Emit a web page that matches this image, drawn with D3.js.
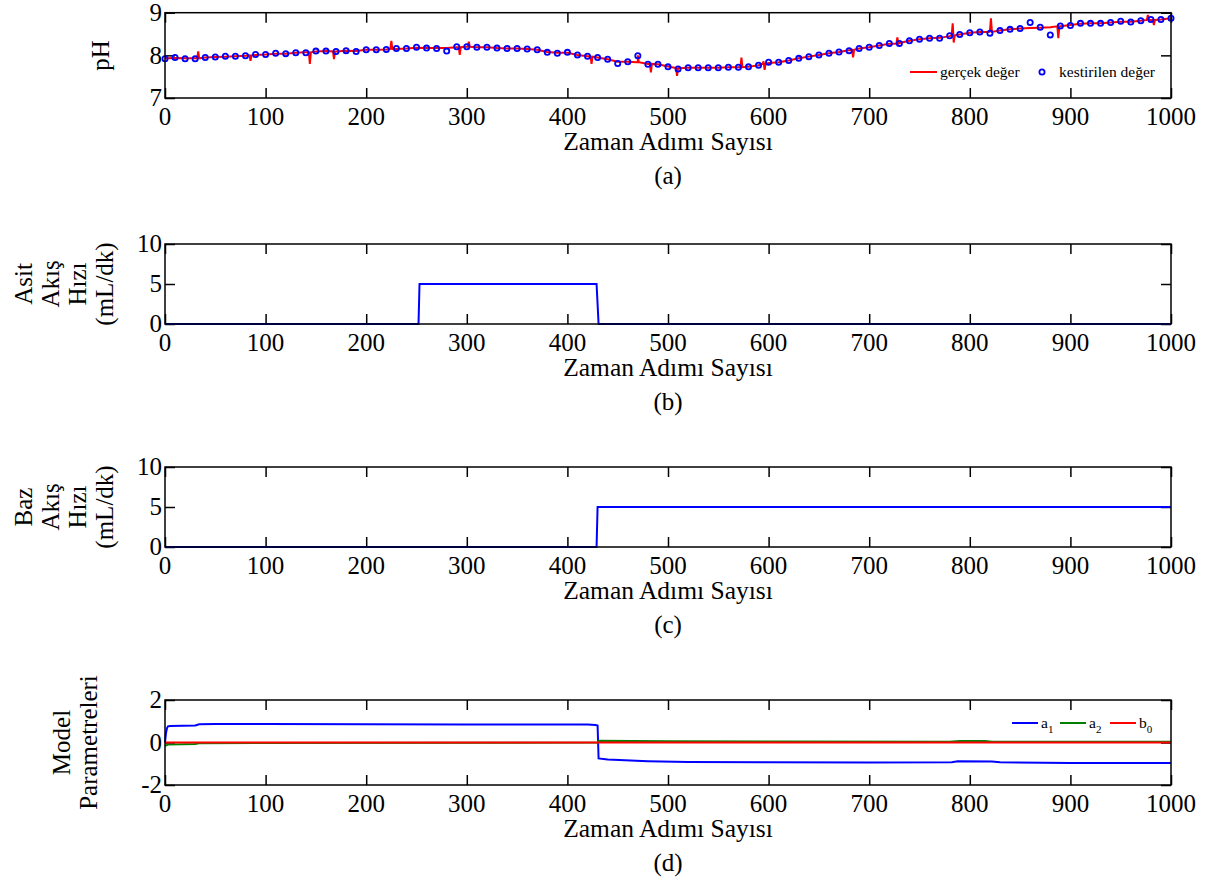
<!DOCTYPE html>
<html><head><meta charset="utf-8">
<script src="https://cdn.jsdelivr.net/npm/d3@7"></script>
<style>
body{margin:0;background:#fff}
text{font-family:"Liberation Serif","Times New Roman",serif;fill:#000}
</style>
</head><body>
<svg id="c" width="1210" height="877"></svg>
<script>
// ---------- DATA ----------
const xTicks = [0,100,200,300,400,500,600,700,800,900,1000];
const xLabel = "Zaman Adımı Sayısı";
const captions = ["(a)","(b)","(c)","(d)"];

// panel (a): estimated pH (circles every 10 steps, t = 0..1000)
const kestirilenT = [0,10,20,30,40,50,60,70,80,90,100,110,120,130,140,150,160,170,180,190,200,210,220,230,240,250,260,270,280,290,300,310,320,330,340,350,360,370,380,390,400,410,420,430,440,450,460,470,480,490,500,510,520,530,540,550,560,570,580,590,600,610,620,630,640,650,660,670,680,690,700,710,720,730,740,750,760,770,780,790,800,810,820,830,840,850,860,870,880,890,900,910,920,930,940,950,960,970,980,990,1000];
const kestirilenV = [7.92,7.95,7.92,7.92,7.95,7.96,7.98,7.98,7.99,8.02,
  8.02,8.05,8.04,8.06,8.06,8.10,8.10,8.09,8.11,8.09,
  8.13,8.13,8.14,8.16,8.16,8.19,8.17,8.16,8.10,8.20,
  8.20,8.19,8.19,8.17,8.16,8.16,8.15,8.13,8.07,8.05,
  8.07,8.01,7.98,7.95,7.91,7.81,7.85,7.99,7.79,7.79,
  7.73,7.68,7.71,7.71,7.71,7.71,7.72,7.72,7.73,7.77,
  7.84,7.84,7.88,7.93,7.97,8.01,8.05,8.08,8.11,8.16,
  8.19,8.23,8.28,8.28,8.34,8.38,8.40,8.40,8.46,8.49,
  8.53,8.55,8.52,8.58,8.61,8.63,8.77,8.66,8.48,8.69,
  8.70,8.75,8.75,8.75,8.77,8.80,8.78,8.81,8.84,8.84,8.87];
// panel (a): real pH (base samples every 10 steps)
const gercekV = [7.93,7.94,7.93,7.93,7.95,7.96,7.97,7.98,7.99,8.01,
  8.02,8.04,8.04,8.06,8.07,8.09,8.10,8.09,8.11,8.10,
  8.13,8.13,8.14,8.15,8.16,8.18,8.17,8.17,8.17,8.19,
  8.20,8.19,8.19,8.17,8.16,8.16,8.15,8.13,8.08,8.06,
  8.06,8.01,7.98,7.95,7.91,7.85,7.85,7.84,7.80,7.79,
  7.74,7.70,7.71,7.71,7.71,7.71,7.72,7.72,7.73,7.77,
  7.82,7.84,7.88,7.93,7.97,8.01,8.05,8.08,8.12,8.16,
  8.19,8.23,8.27,8.29,8.34,8.38,8.40,8.41,8.45,8.49,
  8.53,8.55,8.56,8.58,8.61,8.63,8.64,8.65,8.66,8.68,
  8.71,8.74,8.75,8.75,8.77,8.79,8.79,8.81,8.83,8.84,8.87];
// measurement spikes of the real pH signal: [t, pH]
const gercekSpikes = [
  [32,7.93],[33,8.09],[34,7.93],
  [84,8.00],[85,7.87],[86,8.00],
  [143,8.07],[144,7.80],[145,8.07],
  [167,8.09],[168,7.91],[169,8.09],
  [224,8.15],[225,8.34],[226,8.15],
  [292,8.19],[293,8.01],[294,8.19],
  [301,8.20],[302,8.32],[303,8.20],
  [423,7.97],[424,7.80],[425,7.97],
  [469,7.84],[470,8.00],[471,7.84],
  [482,7.80],[483,7.60],[484,7.80],
  [508,7.70],[509,7.52],[511,7.70],
  [572,7.72],[573,7.95],[574,7.72],
  [594,7.80],[595,7.86],[596,7.66],[597,7.80],
  [683,8.13],[684,7.95],[685,8.13],
  [727,8.27],[728,8.42],[729,8.27],
  [782,8.47],[783,8.75],[784,8.30],[785,8.47],
  [819,8.55],[821,8.87],[822,8.55],
  [887,8.68],[888,8.40],[889,8.68],
  [976,8.83],[977,8.95],[978,8.83],
  [982,8.83],[983,8.71],[984,8.83]
];

// panel (b): acid flow rate
const asitT = [0,252,253,429,431,1000];
const asitV = [0,0,5,5,0,0];
// panel (c): base flow rate
const bazT = [0,429,430,1000];
const bazV = [0,0,5,5];
// panel (d): model parameters
const a1T = [0,1,2,3,5,30,34,50,100,200,300,420,428,430,431,440,480,520,600,700,782,788,822,830,900,1000];
const a1V = [0,0.45,0.68,0.76,0.78,0.80,0.86,0.87,0.87,0.86,0.85,0.85,0.82,0.80,-0.75,-0.80,-0.88,-0.92,-0.93,-0.94,-0.93,-0.88,-0.89,-0.93,-0.96,-0.96];
const a2T = [0,3,30,35,430,431,500,600,780,790,815,822,1000];
const a2V = [-0.15,-0.1,-0.07,-0.03,0,0.08,0.06,0.05,0.04,0.07,0.07,0.04,0.04];
const b0T = [0,1000];
const b0V = [0,0];

// ---------- DRAW ----------
const svg = d3.select("#c");
const L = 165, R = 1171;
const x = d3.scaleLinear().domain([0,1000]).range([L,R]);
const FS = 25;

function panel(top, bottom, yDom, yTicks, caption, ylabLines, ylabX, ylabLH) {
  const y = d3.scaleLinear().domain(yDom).range([bottom, top]);
  const g = svg.append("g");
  const tl = 10;
  g.append("g").attr("transform",`translate(0,${bottom})`)
    .call(d3.axisBottom(x).tickValues(xTicks).tickSizeInner(-tl).tickSizeOuter(0).tickFormat(""))
    .call(s=>s.select(".domain").remove());
  g.append("g").attr("transform",`translate(0,${top})`)
    .call(d3.axisTop(x).tickValues(xTicks).tickSizeInner(-tl).tickSizeOuter(0).tickFormat(""))
    .call(s=>s.select(".domain").remove());
  g.append("g").attr("transform",`translate(${L},0)`)
    .call(d3.axisLeft(y).tickValues(yTicks).tickSizeInner(-tl).tickSizeOuter(0).tickFormat(""))
    .call(s=>s.select(".domain").remove());
  g.append("g").attr("transform",`translate(${R},0)`)
    .call(d3.axisRight(y).tickValues(yTicks).tickSizeInner(-tl).tickSizeOuter(0).tickFormat(""))
    .call(s=>s.select(".domain").remove());
  g.selectAll(".tick line").attr("stroke","#000").attr("stroke-width",1.5);
  g.selectAll(".xtl").data(xTicks).join("text")
    .attr("x",d=>x(d)).attr("y",bottom+27).attr("text-anchor","middle")
    .attr("font-size",FS).text(d=>d);
  g.selectAll(".ytl").data(yTicks).join("text")
    .attr("x",L-3).attr("y",d=>y(d)).attr("dy","0.33em").attr("text-anchor","end")
    .attr("font-size",FS).text(d=>d);
  g.append("text").attr("x",(L+R)/2).attr("y",bottom+52).attr("text-anchor","middle")
    .attr("font-size",FS+0.5).text(xLabel);
  g.append("text").attr("x",(L+R)/2).attr("y",bottom+86).attr("text-anchor","middle")
    .attr("font-size",FS).text(caption);
  const cy = (top+bottom)/2;
  ylabLines.forEach((t,i)=>{
    g.append("text").attr("transform",`translate(${ylabX + i*ylabLH},${cy}) rotate(-90)`)
      .attr("text-anchor","middle").attr("font-size",FS).text(t);
  });
  const plot = svg.append("g");
  return {y, g, plot, top, bottom};
}
function frame(p){
  svg.append("rect").attr("x",L).attr("y",p.top).attr("width",R-L).attr("height",p.bottom-p.top)
    .attr("fill","none").attr("stroke","#000").attr("stroke-width",1.5);
}

// (a)
const pa = panel(12.7, 98, [7,9], [7,8,9], captions[0], ["pH"], 109, 0);
const realPts = kestirilenT.map((t,i)=>[t,gercekV[i]]).concat(gercekSpikes).sort((a,b)=>a[0]-b[0]);
pa.plot.append("path").datum(realPts)
  .attr("d", d3.line().x(d=>x(d[0])).y(d=>pa.y(d[1])))
  .attr("fill","none").attr("stroke","#ff0000").attr("stroke-width",2);
pa.plot.selectAll("circle").data(kestirilenT.map((t,i)=>[t,kestirilenV[i]])).join("circle")
  .attr("cx",d=>x(d[0])).attr("cy",d=>pa.y(d[1])).attr("r",2.6)
  .attr("fill","none").attr("stroke","#0000ff").attr("stroke-width",1.8);
frame(pa);
const lg = svg.append("g");
lg.append("line").attr("x1",910).attr("x2",937).attr("y1",72).attr("y2",72).attr("stroke","#ff0000").attr("stroke-width",2);
lg.append("text").attr("x",940).attr("y",77).attr("font-size",15.5).text("gerçek değer");
lg.append("circle").attr("cx",1042).attr("cy",72).attr("r",2.6).attr("fill","none").attr("stroke","#0000ff").attr("stroke-width",1.8);
lg.append("text").attr("x",1059).attr("y",77).attr("font-size",15.5).text("kestirilen değer");

// (b)
const pb = panel(244, 324, [0,10], [0,5,10], captions[1], ["Asit","Akış","Hızı","(mL/dk)"], 32, 27);
pb.plot.append("path").datum(asitT.map((t,i)=>[t,asitV[i]]))
  .attr("d", d3.line().x(d=>x(d[0])).y(d=>pb.y(d[1])))
  .attr("fill","none").attr("stroke","#0000ff").attr("stroke-width",2);
frame(pb);

// (c)
const pc = panel(467, 547, [0,10], [0,5,10], captions[2], ["Baz","Akış","Hızı","(mL/dk)"], 32, 27);
pc.plot.append("path").datum(bazT.map((t,i)=>[t,bazV[i]]))
  .attr("d", d3.line().x(d=>x(d[0])).y(d=>pc.y(d[1])))
  .attr("fill","none").attr("stroke","#0000ff").attr("stroke-width",2);
frame(pc);

// (d)
const pd = panel(700, 785, [-2,2], [-2,0,2], captions[3], ["Model","Parametreleri"], 70, 27);
const series = [
  {T:a1T, V:a1V, c:"#0000ff"},
  {T:a2T, V:a2V, c:"#008000"},
  {T:b0T, V:b0V, c:"#ff0000"}
];
series.forEach(s=>{
  pd.plot.append("path").datum(s.T.map((t,i)=>[t,s.V[i]]))
    .attr("d", d3.line().x(d=>x(d[0])).y(d=>pd.y(d[1])))
    .attr("fill","none").attr("stroke",s.c).attr("stroke-width",2);
});
frame(pd);
const legD = [{c:"#0000ff",b:"a",s:"1",x:1012},{c:"#008000",b:"a",s:"2",x:1060},{c:"#ff0000",b:"b",s:"0",x:1110}];
legD.forEach(l=>{
  svg.append("line").attr("x1",l.x).attr("x2",l.x+26).attr("y1",723).attr("y2",723).attr("stroke",l.c).attr("stroke-width",2);
  const t = svg.append("text").attr("x",l.x+29).attr("y",728).attr("font-size",15.5);
  t.append("tspan").text(l.b);
  t.append("tspan").attr("font-size",11).attr("dy",5).text(l.s);
});
</script>
</body></html>
